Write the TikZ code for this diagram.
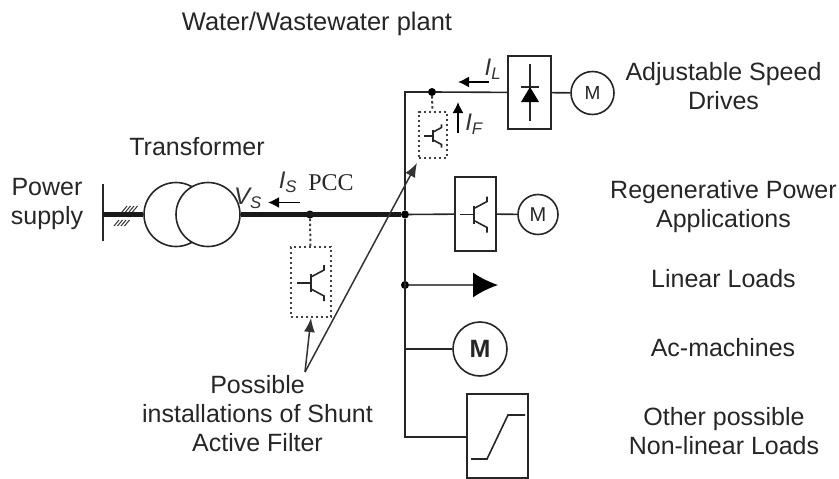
\documentclass[tikz,border=0pt]{standalone}
\usepackage{fontspec}
\setmainfont{Liberation Sans}
\newfontfamily\timesfont{Liberation Serif}
\usetikzlibrary{arrows.meta, positioning}
\tikzset{
  wire/.style={line width=1.6pt, draw=black!85},
  thickwire/.style={line width=5pt, draw=black!90},
  filterwire/.style={line width=2pt, draw=black!75, dash pattern=on 2.4pt off 2.6pt},
  filterbox/.style={draw=black!75, line width=2pt, dash pattern=on 2.4pt off 2.6pt, inner sep=0pt},
  loadbox/.style={draw=black!85, line width=1.6pt, inner sep=0pt},
  motor/.style={circle, draw=black!85, line width=1.6pt, inner sep=0pt, fill=white, text=black!85},
  winding/.style={circle, draw=black!85, line width=1.6pt, inner sep=0pt, minimum size=64pt, fill=white},
  junction/.style={circle, fill=black, inner sep=0pt, minimum size=8pt},
  lbl/.style={font=\fontsize{25}{29}\selectfont, text=black!85, align=center, inner sep=0pt},
  symb/.style={font=\itshape\fontsize{24}{29}\selectfont, text=black!80, inner sep=0pt},
  current/.style={-{Latex[length=11pt,width=11pt]}, line width=1.6pt, draw=black},
  pointer/.style={-{Latex[length=14pt,width=11pt]}, line width=1.5pt, draw=black!80},
  switch/.pic={
    \draw [line width=1.6pt, black!85] (-14,0) -- (0,0);
    \draw [line width=1.6pt, black!85] (0,-9) -- (0,9);
    \draw [line width=1.6pt, black!85] (0,-6) -- (13,-13) -- (13,-18);
    \draw [line width=1.6pt, black!85] (0,6) -- (13,13) -- (13,18);
  }
}
\begin{document}
\begin{tikzpicture}[x=1pt,y=-1pt]
\useasboundingbox (0,0) rectangle (839,479);
% supply and transformer
\draw [wire] (103,184) -- (103,241);
\coordinate (feed) at (103,214.5);
\node [winding] (wleft) at (176,214.5) {};
\node [winding] (wright) at (208,214.5) {};
\draw [thickwire] (feed) -- (wleft);
\foreach \i in {0,1,2,3} {
  \draw [line width=1pt, black!80] (122+3.5*\i,212) -- (127+3.5*\i,206);
  \draw [line width=1pt, black!80] (114+3.5*\i,226) -- (119+3.5*\i,220);
}
% main bus
\node [junction] (pcc) at (310,214.5) {};
\node [junction] (busend) at (405,214.5) {};
\draw [thickwire] (wright) -- (busend);
\node [filterbox, minimum width=40pt, minimum height=70pt] (lowfilter) at (311,282) {};
\draw [filterwire] (pcc) -- (lowfilter);
\pic at (311,283) {switch};
% upper branch
\coordinate (corner) at (405,92);
\node [junction] (topdot) at (432,92) {};
\node [loadbox, minimum width=43pt, minimum height=73pt] (diodebox) at (529.5,92.5) {};
\node [motor, minimum size=43pt, font=\fontsize{19}{19}\selectfont] (motora) at (592.5,93) {M};
\draw [wire] (busend) -- (corner) -- (topdot) -- (diodebox);
\draw [wire] (diodebox) -- (motora);
\draw [wire] (530,64) -- (530,121);
\draw [wire] (521,87) -- (539,87);
\fill [black] (530,87) -- (539,102) -- (521,102) -- cycle;
\node [filterbox, minimum width=28pt, minimum height=46pt] (topfilter) at (433,135) {};
\draw [filterwire] (topdot) -- (topfilter);
\pic [scale=0.65] at (433,136) {switch};
% regenerative branch
\node [loadbox, minimum width=41pt, minimum height=74pt] (regenbox) at (475.5,214) {};
\node [motor, minimum size=40pt, font=\fontsize{20}{20}\selectfont] (motorb) at (538,214.5) {M};
\draw [wire] (busend) -- (regenbox);
\draw [wire] (regenbox) -- (motorb);
\pic at (474,214.5) {switch};
% remaining loads
\node [junction] (loaddot) at (405,285) {};
\coordinate (loadtip) at (498,285);
\draw [line width=1.6pt, black!65, -{Latex[length=25pt,width=25pt,black]}] (loaddot) -- (loadtip);
\node [motor, minimum size=54pt, font=\bfseries\fontsize{25}{25}\selectfont] (motorc) at (480,349) {M};
\coordinate (motorjoin) at (405,349);
\node [loadbox, minimum width=61pt, minimum height=84pt] (nonlinbox) at (497.5,436) {};
\coordinate (lowcorner) at (405,437);
\draw [wire] (busend) -- (lowcorner) -- (nonlinbox.west |- lowcorner);
\draw [wire] (motorjoin) -- (motorc);
\draw [wire] (471,459) -- (487,459) -- (508,415) -- (525,415);
% currents
\draw [current] (300,202.5) -- (268,202.5);
\draw [current] (489,82) -- (458,82);
\draw [current] (458,133) -- (458,102);
% labels
\node [lbl, font=\fontsize{25.5}{29}\selectfont] (plant) at (317,24) {Water/Wastewater plant};
\node [lbl] (transformer) at (197,147) {Transformer};
\node [lbl] (supply) at (47,204) {Power\\supply};
\node [symb] (vs) at (248,198) {V\textsubscript{S}};
\node [symb] (is) at (288,182) {I\textsubscript{S}};
\node [lbl, font=\timesfont\fontsize{24}{28}\selectfont] (pcclabel) at (331,183) {PCC};
\node [symb] (il) at (493,69) {I\textsubscript{L}};
\node [symb] (if) at (474,124) {I\textsubscript{F}};
\node [lbl] (drives) at (723.5,86) {Adjustable Speed\\Drives};
\node [lbl] (regen) at (723.5,207) {Regenerative Power\\Applications};
\node [lbl] (linear) at (723.5,279) {Linear Loads};
\node [lbl] (acm) at (723,348) {Ac-machines};
\node [lbl] (other) at (724,431) {Other possible\\Non-linear Loads};
\node [lbl] (possible) at (257.5,414) {Possible\\installations of Shunt\\Active Filter};
% pointers to the filters
\coordinate (pointfrom) at (305,372);
\draw [pointer] (pointfrom) -- (lowfilter.south);
\draw [pointer] (pointfrom) -- (417,163);
\end{tikzpicture}
\end{document}
